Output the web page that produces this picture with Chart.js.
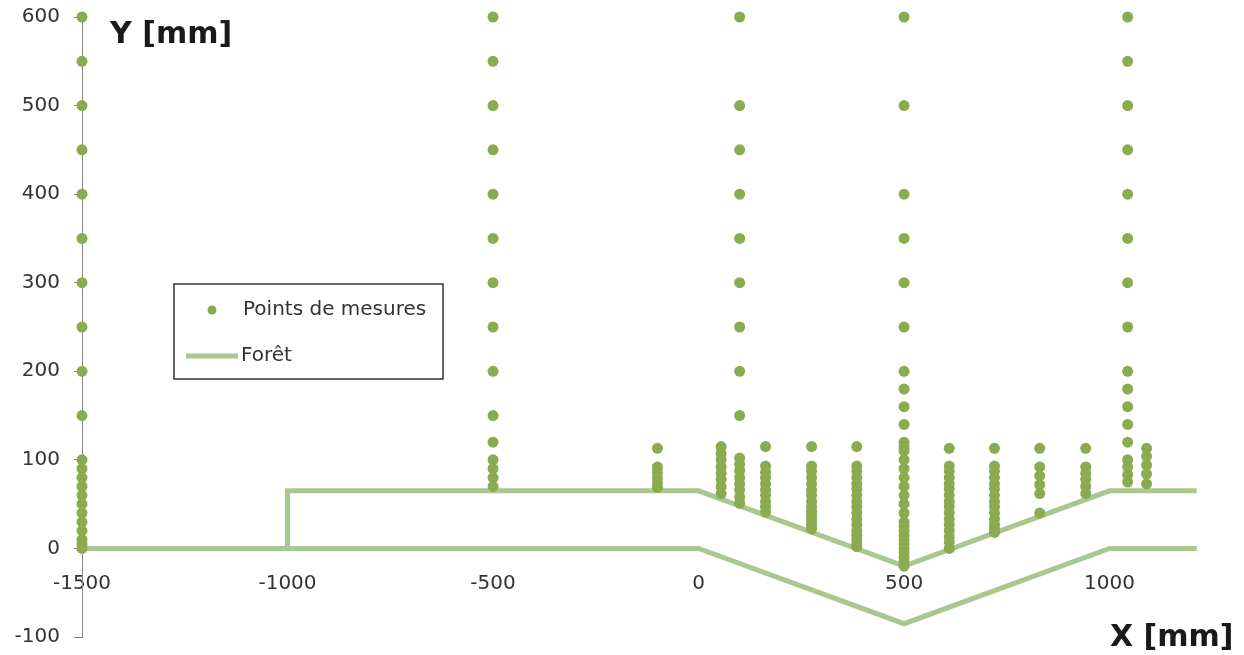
<!DOCTYPE html>
<html>
<head>
<meta charset="utf-8">
<script src="https://cdn.jsdelivr.net/npm/chart.js@4/dist/chart.umd.min.js"></script>
<style>
  html, body { margin: 0; padding: 0; background: #fff; }
  #wrap { position: relative; width: 1244px; height: 655px; }
</style>
</head>
<body>
<div id="wrap"><canvas id="chart"></canvas></div>
<script>
// measurement columns: x position and the heights measured there
const colX = [-1500, -500, -100, 55, 100, 163, 275, 385, 500, 610, 720, 830, 942, 1044, 1090]
const colY = [
  [600, 550, 500, 450, 400, 350, 300, 250, 200, 150, 100, 90, 80, 70, 60, 50, 40, 30, 20, 10, 5, 0],
  [600, 550, 500, 450, 400, 350, 300, 250, 200, 150, 120, 100, 90, 80, 70],
  [113, 92, 86, 80, 74, 69],
  [115, 107, 100, 92, 85, 78, 70, 62],
  [600, 500, 450, 400, 350, 300, 250, 200, 150, 102, 95, 88, 80, 73, 66, 58, 51],
  [115, 93, 86, 80, 73, 66, 60, 53, 47, 41],
  [115, 93, 87, 80, 73, 66, 60, 53, 47, 42, 38, 34, 30, 26, 22],
  [115, 93, 87, 80, 73, 67, 60, 53, 47, 40, 33, 27, 20, 15, 10, 5, 2],
  [600, 500, 400, 350, 300, 250, 200, 180, 160, 140, 120, 115, 110, 100, 90, 80, 70, 60, 50, 40, 30, 25, 20, 15, 10, 5, 0, -5, -10, -15, -20],
  [113, 93, 87, 80, 73, 67, 60, 53, 47, 40, 33, 27, 20, 13, 7, 0],
  [113, 93, 87, 80, 73, 67, 60, 53, 47, 40, 33, 27, 22, 18],
  [113, 92, 82, 72, 62, 40],
  [113, 92, 85, 78, 70, 62],
  [600, 550, 500, 450, 400, 350, 300, 250, 200, 180, 160, 140, 120, 100, 92, 83, 75],
  [113, 104, 94, 84, 73]
]

// forest outline (ground and top of litter)
const forestLowX = [-1500, 0, 500, 1000, 1212]
const forestLowY = [0, 0, -85, 0, 0]
const forestHighX = [-1000, -1000, 0, 500, 1000, 1212]
const forestHighY = [0, 65, 65, -20, 65, 65]

const xTicks = [-1500, -1000, -500, 0, 500, 1000]
const yTicks = [-100, 0, 100, 200, 300, 400, 500, 600]

const pointColor = "#8aab4f"
const forestColor = "#a9c78e"
const textColor = "#333333"
const tickFont = { family: "DejaVu Sans", size: 20 }

let points = []
colX.forEach((x, i) => {
    for (const y of colY[i]) points.push({ x: x, y: y })
})
const forestLow = forestLowX.map((x, i) => ({ x: x, y: forestLowY[i] }))
const forestHigh = forestHighX.map((x, i) => ({ x: x, y: forestHighY[i] }))

// legend box and axis titles, drawn on top of the chart
const extras = {
    id: "extras",
    afterDraw(chart) {
        const ctx = chart.ctx
        ctx.save()

        ctx.fillStyle = "#ffffff"
        ctx.fillRect(174, 284, 269, 95)
        ctx.strokeStyle = "#333333"
        ctx.lineWidth = 1.5
        ctx.strokeRect(174, 284, 269, 95)

        ctx.fillStyle = pointColor
        ctx.beginPath()
        ctx.arc(212, 310, 4.5, 0, Math.PI * 2)
        ctx.fill()

        ctx.strokeStyle = forestColor
        ctx.lineWidth = 5
        ctx.beginPath()
        ctx.moveTo(186, 356)
        ctx.lineTo(238, 356)
        ctx.stroke()

        ctx.fillStyle = textColor
        ctx.font = "20px 'DejaVu Sans'"
        ctx.textBaseline = "middle"
        ctx.textAlign = "left"
        ctx.fillText("Points de mesures", 243, 310)
        ctx.fillText("Forêt", 241, 356)

        ctx.fillStyle = "#1a1a1a"
        ctx.font = "bold 30px 'DejaVu Sans'"
        ctx.textBaseline = "alphabetic"
        ctx.fillText("Y [mm]", 110, 43)
        ctx.fillText("X [mm]", 1110, 646)
        ctx.restore()
    }
}

new Chart(document.getElementById("chart"), {
    type: "scatter",
    data: {
        datasets: [
            {
                label: "Points de mesures",
                data: points,
                backgroundColor: pointColor,
                borderWidth: 0,
                pointRadius: 5.5,
                clip: false,
                order: 0
            },
            {
                label: "Forêt",
                data: forestLow,
                showLine: true,
                borderColor: forestColor,
                borderWidth: 5,
                pointRadius: 0,
                clip: false,
                order: 1
            },
            {
                label: "Forêt (haut)",
                data: forestHigh,
                showLine: true,
                borderColor: forestColor,
                borderWidth: 5,
                pointRadius: 0,
                clip: false,
                order: 1
            }
        ]
    },
    options: {
        responsive: true,
        maintainAspectRatio: false,
        animation: false,
        layout: { padding: { top: 17, bottom: 18, left: 0, right: 44 } },
        plugins: {
            legend: { display: false },
            tooltip: { enabled: false }
        },
        scales: {
            x: {
                type: "linear",
                position: { y: 0 },
                min: -1500,
                max: 1220,
                afterBuildTicks: (s) => { s.ticks = xTicks.map(v => ({ value: v })) },
                grid: { display: false, drawTicks: false },
                border: { display: false },
                ticks: { font: tickFont, color: textColor, padding: 23, maxRotation: 0, autoSkip: false, callback: (v) => String(v) }
            },
            y: {
                type: "linear",
                min: -100,
                max: 600,
                afterBuildTicks: (s) => { s.ticks = yTicks.map(v => ({ value: v })) },
                afterFit: (s) => {
                    s.width = 82
                    s.paddingTop = 0
                    s.paddingBottom = 0
                },
                grid: { drawOnChartArea: false, drawTicks: true, tickLength: 8, color: "#868686", lineWidth: 1 },
                border: { color: "#868686", width: 1 },
                ticks: { font: tickFont, color: textColor, padding: 14, callback: (v) => String(v) }
            }
        }
    },
    plugins: [extras]
})
</script>
</body>
</html>
